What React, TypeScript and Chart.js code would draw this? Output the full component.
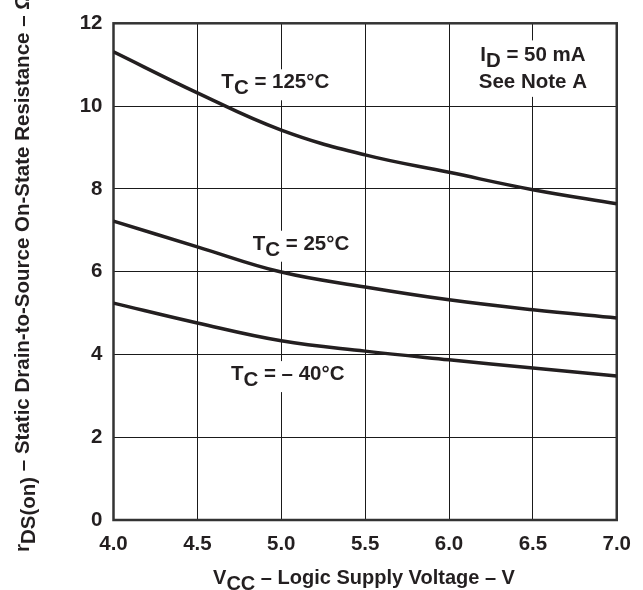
import React, { useEffect, useRef } from "react";
import { Chart, registerables } from "chart.js";

Chart.register(...registerables);

const voltages = [4.0, 4.5, 5.0, 5.5, 6.0, 6.5, 7.0];
const r125 = [11.31, 10.32, 9.42, 8.82, 8.4, 7.98, 7.64];
const r25 = [7.22, 6.6, 5.99, 5.63, 5.32, 5.08, 4.88];
const rm40 = [5.24, 4.76, 4.33, 4.08, 3.87, 3.67, 3.48];

const xTicks = [4.0, 4.5, 5.0, 5.5, 6.0, 6.5, 7.0];
const yTicks = [0, 2, 4, 6, 8, 10, 12];

type Seg = { t: string; sub?: boolean };

const curveLabels: { segs: Seg[]; x: number; y: number }[] = [
  { segs: [{ t: "T" }, { t: "C", sub: true }, { t: " = 125°C" }], x: 4.643, y: 10.43 },
  { segs: [{ t: "T" }, { t: "C", sub: true }, { t: " = 25°C" }], x: 4.83, y: 6.53 },
  { segs: [{ t: "T" }, { t: "C", sub: true }, { t: " = – 40°C" }], x: 4.7, y: 3.38 },
];
const noteLines: { segs: Seg[]; x: number; y: number }[] = [
  { segs: [{ t: "I" }, { t: "D", sub: true }, { t: " = 50 mA" }], x: 6.5, y: 11.08 },
  { segs: [{ t: "See Note A" }], x: 6.5, y: 10.44 },
];
const xTitle: Seg[] = [{ t: "V" }, { t: "CC", sub: true }, { t: " – Logic Supply Voltage – V" }];
const yTitle: Seg[] = [
  { t: "r" },
  { t: "DS(on)", sub: true },
  { t: " – Static Drain-to-Source On-State Resistance – Ω" },
];

const FAMILY = "'Liberation Sans', Arial, Helvetica, sans-serif";
const INK = "#231f20";

function richWidth(ctx: CanvasRenderingContext2D, segs: Seg[]) {
  let w = 0;
  for (const s of segs) w += ctx.measureText(s.t).width;
  return w;
}
function drawRich(ctx: CanvasRenderingContext2D, segs: Seg[], x: number, y: number, subDy: number) {
  let cx = x;
  for (const s of segs) {
    ctx.fillText(s.t, cx, y + (s.sub ? subDy : 0));
    cx += ctx.measureText(s.t).width;
  }
}

const annotPlugin = {
  id: "annot",
  beforeDatasetsDraw(chart: any) {
    const ctx: CanvasRenderingContext2D = chart.ctx;
    const xs = chart.scales.x;
    const ys = chart.scales.y;
    ctx.save();
    ctx.font = `bold 20.5px ${FAMILY}`;
    ctx.fillStyle = "#ffffff";
    for (const l of curveLabels) {
      const px = xs.getPixelForValue(l.x);
      const py = ys.getPixelForValue(l.y);
      const w = richWidth(ctx, l.segs);
      ctx.fillRect(px - 4, py - 19, w + 8, 31);
    }
    {
      let maxW = 0;
      for (const l of noteLines) maxW = Math.max(maxW, richWidth(ctx, l.segs));
      const cx = xs.getPixelForValue(noteLines[0].x);
      const top = ys.getPixelForValue(noteLines[0].y) - 21;
      const bottom = ys.getPixelForValue(noteLines[1].y) + 9;
      ctx.fillRect(cx - maxW / 2 - 5, top, maxW + 10, bottom - top);
    }
    const a = chart.chartArea;
    ctx.strokeStyle = "#333333";
    ctx.lineWidth = 2.5;
    ctx.strokeRect(a.left, a.top, a.right - a.left, a.bottom - a.top);
    ctx.fillStyle = INK;
    ctx.textBaseline = "alphabetic";
    ctx.textAlign = "left";
    for (const l of curveLabels) {
      drawRich(ctx, l.segs, xs.getPixelForValue(l.x), ys.getPixelForValue(l.y), 6);
    }
    for (const l of noteLines) {
      const w = richWidth(ctx, l.segs);
      drawRich(ctx, l.segs, xs.getPixelForValue(l.x) - w / 2, ys.getPixelForValue(l.y), 6);
    }
    ctx.restore();
  },
  afterDraw(chart: any) {
    const ctx: CanvasRenderingContext2D = chart.ctx;
    ctx.save();
    ctx.fillStyle = INK;
    ctx.font = `bold 20px ${FAMILY}`;
    ctx.textBaseline = "alphabetic";
    ctx.textAlign = "left";
    const w = richWidth(ctx, xTitle);
    drawRich(ctx, xTitle, 364 - w / 2, 584, 6);
    ctx.font = `bold 20.5px ${FAMILY}`;
    ctx.translate(28.5, 552);
    ctx.rotate(-Math.PI / 2);
    drawRich(ctx, yTitle, 0, 0, 6);
    ctx.restore();
  },
};

export default function App() {
  const ref = useRef<HTMLCanvasElement | null>(null);
  useEffect(() => {
    document.body.style.margin = "0";
    const mk = (vals: number[]) => voltages.map((v, i) => ({ x: v, y: vals[i] }));
    const ds = (vals: number[]) => ({
      data: mk(vals),
      borderColor: INK,
      borderWidth: 3.5,
      pointRadius: 0,
      fill: false,
      tension: 0.4,
    });
    const chart = new Chart(ref.current as HTMLCanvasElement, {
      type: "line",
      data: { datasets: [ds(r125), ds(r25), ds(rm40)] },
      options: {
        animation: false,
        responsive: true,
        maintainAspectRatio: false,
        layout: { padding: { top: 16.5, right: 25, left: 0, bottom: 0 } },
        plugins: { legend: { display: false }, tooltip: { enabled: false } },
        scales: {
          x: {
            type: "linear",
            min: 4,
            max: 7,
            afterFit: (s: any) => {
              s.height = 70;
            },
            afterBuildTicks: (s: any) => {
              s.ticks = xTicks.map((v) => ({ value: v }));
            },
            grid: { color: "#1a1a1a", lineWidth: 1, drawTicks: false },
            border: { display: false },
            ticks: {
              padding: 12,
              color: INK,
              font: { family: FAMILY, size: 20.5, weight: "bold" },
              callback: (v: any) => Number(v).toFixed(1),
            },
          },
          y: {
            type: "linear",
            min: 0,
            max: 12,
            afterFit: (s: any) => {
              s.width = 113.5;
            },
            afterBuildTicks: (s: any) => {
              s.ticks = yTicks.map((v) => ({ value: v }));
            },
            grid: { color: "#1a1a1a", lineWidth: 1, drawTicks: false },
            border: { display: false },
            ticks: {
              padding: 11,
              color: INK,
              font: { family: FAMILY, size: 20.5, weight: "bold" },
              callback: (v: any) => String(v),
            },
          },
        },
      },
      plugins: [annotPlugin],
    });
    return () => chart.destroy();
  }, []);
  return (
    <div style={{ position: "fixed", left: 0, top: 0, width: 643, height: 590, background: "#fff" }}>
      <canvas ref={ref} />
    </div>
  );
}
